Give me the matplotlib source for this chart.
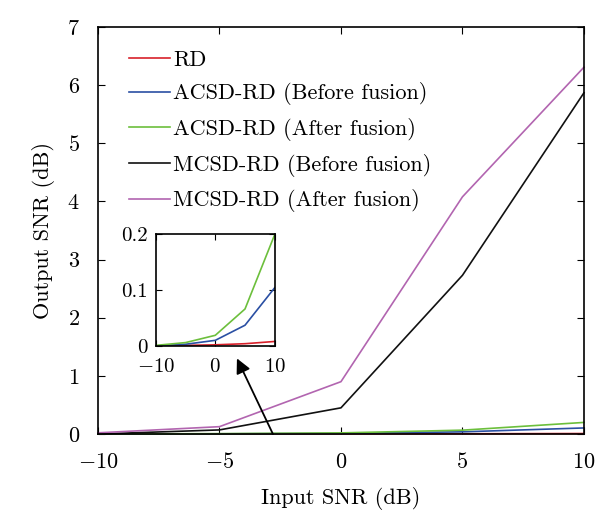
import numpy as np
import matplotlib
matplotlib.use('Agg')
import matplotlib.pyplot as plt

plt.rcParams['font.family'] = 'serif'
plt.rcParams['font.serif'] = ['cmr10']
plt.rcParams['mathtext.fontset'] = 'cm'
plt.rcParams['axes.formatter.use_mathtext'] = True
plt.rcParams['axes.unicode_minus'] = True

# 数据
snr_in = [-10, -5, 0, 5, 10]
rd = [0.0, 0.001, 0.002, 0.004, 0.008]
acsd_before = [0.0, 0.003, 0.010, 0.037, 0.104]
acsd_after = [0.001, 0.006, 0.019, 0.066, 0.199]
mcsd_before = [0.0, 0.07, 0.45, 2.73, 5.87]
mcsd_after = [0.02, 0.126, 0.90, 4.08, 6.31]

labels = ['RD', 'ACSD-RD (Before fusion)', 'ACSD-RD (After fusion)',
          'MCSD-RD (Before fusion)', 'MCSD-RD (After fusion)']
colors = ['#d8212b', '#2a4fa3', '#6cbf3c', '#111111', '#b265b0']
series = [rd, acsd_before, acsd_after, mcsd_before, mcsd_after]

fig = plt.figure(figsize=(6.16, 5.21), dpi=100)
ax = fig.add_axes([0.159, 0.167, 0.789, 0.781])
for y, c, lab in zip(series, colors, labels):
    ax.plot(snr_in, y, color=c, lw=1.2, label=lab, clip_on=False)

ax.set_xlim(-10, 10)
ax.set_ylim(0, 7)
ax.set_xticks([-10, -5, 0, 5, 10])
ax.set_yticks(range(8))
ax.tick_params(direction='in', top=True, right=True, labelsize=16, length=5, pad=13)
ax.set_xlabel('Input SNR (dB)', fontsize=16, labelpad=11)
ax.set_ylabel('Output SNR (dB)', fontsize=16, labelpad=9)
for s in ax.spines.values():
    s.set_linewidth(1.2)

ax.legend(loc='upper left', frameon=False, fontsize=16, handlelength=1.85,
          handletextpad=0.15, labelspacing=0.57, borderaxespad=0.0,
          bbox_to_anchor=(0.045, 0.965))

# 箭头
ax.annotate('', xy=(-4.28, 1.30), xytext=(-2.8, 0.0),
            arrowprops=dict(arrowstyle='-|>', color='k', lw=1.3, mutation_scale=22,
                            shrinkA=0, shrinkB=0))

# 局部放大图
ins = fig.add_axes([0.253, 0.336, 0.193, 0.215])
for y, c in zip(series[:3], colors[:3]):
    ins.plot(snr_in, y, color=c, lw=1.2)
ins.set_xlim(-10, 10)
ins.set_ylim(0, 0.2)
ins.set_xticks([-10, 0, 10])
ins.set_yticks([0, 0.1, 0.2])
ins.set_yticklabels(['0', '0.1', '0.2'])
ins.tick_params(axis='x', pad=9)
ins.tick_params(direction='in', top=True, right=True, labelsize=15, length=4)
ins.tick_params(axis='y', pad=6)
for s in ins.spines.values():
    s.set_linewidth(1.2)

plt.savefig('out.png', dpi=100)
